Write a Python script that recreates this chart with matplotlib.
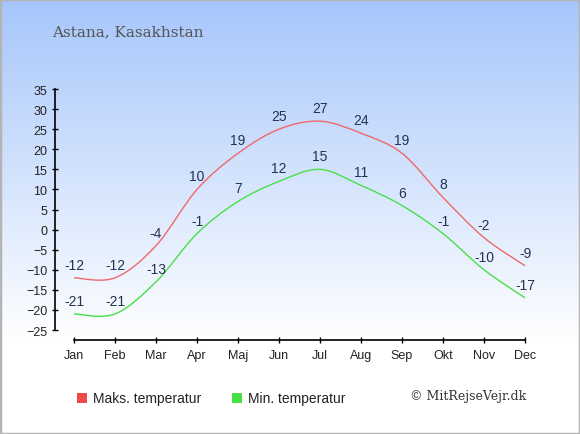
import numpy as np
import matplotlib
matplotlib.use('Agg')
import matplotlib.pyplot as plt
from matplotlib.path import Path
from matplotlib.patches import PathPatch, Rectangle
from matplotlib.colors import LinearSegmentedColormap

months = ['Jan', 'Feb', 'Mar', 'Apr', 'Maj', 'Jun', 'Jul', 'Aug', 'Sep', 'Okt', 'Nov', 'Dec']
max_temp = [-12, -12, -4, 10, 19, 25, 27, 24, 19, 8, -2, -9]
min_temp = [-21, -21, -13, -1, 7, 12, 15, 11, 6, -1, -10, -17]
yticks = list(range(-25, 40, 5))

plt.rcParams['font.family'] = ['Liberation Sans', 'DejaVu Sans']

W, H = 580, 435
fig = plt.figure(figsize=(W / 100, H / 100), dpi=100)

# background gradient
bg = fig.add_axes([0, 0, 1, 1], zorder=-10)
bg.set_axis_off()
grad = np.linspace(0, 1, 435).reshape(-1, 1)
cmap = LinearSegmentedColormap.from_list('bg', [(0, '#a6c6fb'), (0.79, '#ffffff'), (1, '#ffffff')])
bg.imshow(grad, aspect='auto', cmap=cmap, extent=[0, 1, 0, 1], origin='upper')
bg.set_xlim(0, 1)
bg.set_ylim(0, 1)
bg.add_patch(Rectangle((0, 0), 1, 1, transform=bg.transAxes, fill=False,
                       edgecolor='#b4b4b4', lw=2.5))

ax = fig.add_axes([55 / W, (H - 341) / H, (545.5 - 55) / W, (341 - 80) / H])
ax.patch.set_alpha(0)
ax.set_xlim(-19 / 41, 11.5)
ax.set_ylim(-27.49, 37.5)

for s in ['top', 'right']:
    ax.spines[s].set_visible(False)
ax.spines['left'].set_bounds(-25, 35)
ax.spines['bottom'].set_bounds(0, 11)
ax.spines['left'].set_linewidth(1.2)
ax.spines['bottom'].set_linewidth(1.2)

x = np.arange(len(months))
ax.set_xticks(x)
ax.set_xticklabels(months)
ax.set_yticks(yticks)
ax.tick_params(axis='both', direction='inout', length=5, width=1, labelsize=9,
               labelcolor='#222222')
ax.tick_params(axis='x', pad=4)
ax.tick_params(axis='y', pad=3)


def smooth_path(xs, ys):
    pts = np.column_stack([xs, ys]).astype(float)
    n = len(pts)
    verts = [pts[0]]
    codes = [Path.MOVETO]
    for i in range(n - 1):
        p0 = pts[max(i - 1, 0)]
        p1 = pts[i]
        p2 = pts[i + 1]
        p3 = pts[min(i + 2, n - 1)]
        verts += [p1 + (p2 - p0) / 6, p2 - (p3 - p1) / 6, p2]
        codes += [Path.CURVE4] * 3
    return Path(verts, codes)


for vals, col in [(max_temp, '#f06868'), (min_temp, '#48e048')]:
    ax.add_patch(PathPatch(smooth_path(x, vals), facecolor='none', edgecolor=col, lw=1.0))
    for xi, v in zip(x, vals):
        ax.annotate(str(v), (xi, v), xytext=(0, 13), textcoords='offset pixels',
                    ha='center', va='center', fontsize=10, color='#233352')

fig.text(52 / W, 1 - 32 / H, 'Astana, Kasakhstan', family='DejaVu Serif',
         fontsize=11, color='#555555', va='center', ha='left')

# legend
fig.patches.append(Rectangle((77 / W, 1 - 404 / H), 10 / W, 10 / H, transform=fig.transFigure,
                             facecolor='#ee4848', edgecolor='none'))
fig.text(93 / W, 1 - 399 / H, 'Maks. temperatur', fontsize=10, color='#222222', va='center')
fig.patches.append(Rectangle((232 / W, 1 - 404 / H), 10 / W, 10 / H, transform=fig.transFigure,
                             facecolor='#44e044', edgecolor='none'))
fig.text(248 / W, 1 - 399 / H, 'Min. temperatur', fontsize=10, color='#222222', va='center')
fig.text(526 / W, 1 - 397 / H, '\u00a9 MitRejseVejr.dk', family='DejaVu Serif',
         fontsize=9, color='#333333', va='center', ha='right')

fig.savefig('out.png', dpi=100)
